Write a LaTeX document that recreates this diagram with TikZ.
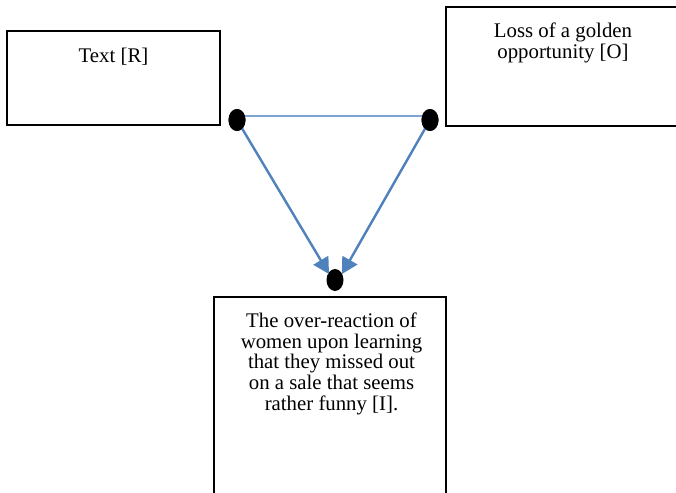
\documentclass[tikz,border=0pt]{standalone}
\usepackage{fontspec}
\setmainfont{Liberation Serif}
\usetikzlibrary{arrows.meta,shapes.geometric}
\definecolor{lineblue}{HTML}{4F81BD}
\definecolor{thinblue}{HTML}{7FA3D3}
\tikzset{
  box/.style={draw=black, line width=2pt, rectangle, inner sep=0pt},
  label/.style={font=\fontsize{20.8}{20.6}\selectfont, align=center, inner sep=0pt},
  dot/.style={ellipse, fill=black, inner sep=0pt, minimum width=17pt, minimum height=22pt},
  link/.style={draw=thinblue, line width=2pt},
  arr/.style={draw=lineblue, line width=2.4pt, -{Triangle[length=16pt,width=17pt]}}
}
\begin{document}
\begin{tikzpicture}[x=1pt,y=-1pt]
\useasboundingbox (0,0) rectangle (676,492);
\fill[white] (0,0) rectangle (676,492);
% boxes
\node[box, minimum width=213pt, minimum height=94pt] (bR) at (113.5,78) {};
\node[box, minimum width=234pt, minimum height=119pt] (bO) at (563,66.5) {};
\node[box, minimum width=232pt, minimum height=203pt] (bI) at (330,398.5) {};
% texts
\node[label, anchor=base] (tR) at (113.5,63) {Text [R]};
\node[label, anchor=north] (tO) at (563,22.8) {Loss of a golden\\opportunity [O]};
\node[label, anchor=north] (tI) at (331.5,312.8) {The over-reaction of\\women upon learning\\that they missed out\\on a sale that seems\\rather funny [I].};
% dots
\node[dot] (dL) at (237,120) {};
\node[dot] (dR) at (430,120) {};
\node[dot] (dB) at (335,280) {};
% connectors
\draw[link] ([yshift=4pt]dL.center) -- ([yshift=4pt]dR.center);
\draw[arr] (dL.center) -- ([xshift=-6pt,yshift=6pt]dB.center);
\draw[arr] (dR.center) -- ([xshift=7pt,yshift=6pt]dB.center);
\node[dot] at (dL) {};
\node[dot] at (dR) {};
\end{tikzpicture}
\end{document}
